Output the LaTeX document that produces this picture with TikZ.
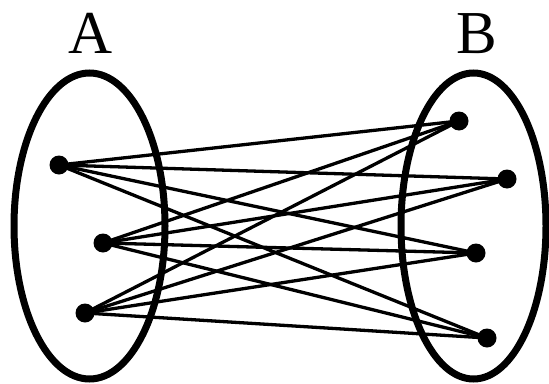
\documentclass[tikz,border=0pt]{standalone}
\usepackage{fontspec}
\setmainfont{Liberation Serif}
\begin{document}
\begin{tikzpicture}[x=1pt,y=-1pt,
  setline/.style={line width=7pt},
  edge/.style={line width=3.3pt},
  dot/.style={circle,fill=black,inner sep=0pt,minimum size=19pt},
  setlabel/.style={anchor=base,inner sep=0pt,font=\fontsize{61}{61}\selectfont}]
\useasboundingbox (0,0) rectangle (549,383);
% the two sets
\draw[setline] (89.5,226) ellipse [x radius=75.5, y radius=153];
\draw[setline] (473.5,226) ellipse [x radius=72.5, y radius=153];
\node[setlabel] (la) at (91,53) {A};
\node[setlabel] (lb) at (477,53) {B};
% elements of A
\node[dot] (a1) at (59,165) {};
\node[dot] (a2) at (103,243) {};
\node[dot] (a3) at (85,313) {};
% elements of B
\node[dot] (b1) at (459,121) {};
\node[dot] (b2) at (507,179) {};
\node[dot] (b3) at (476,253) {};
\node[dot] (b4) at (487,338) {};
% every pair joined
\foreach \a in {a1,a2,a3}
  \foreach \b in {b1,b2,b3,b4}
    \draw[edge] (\a.center) -- (\b.center);
\end{tikzpicture}
\end{document}
